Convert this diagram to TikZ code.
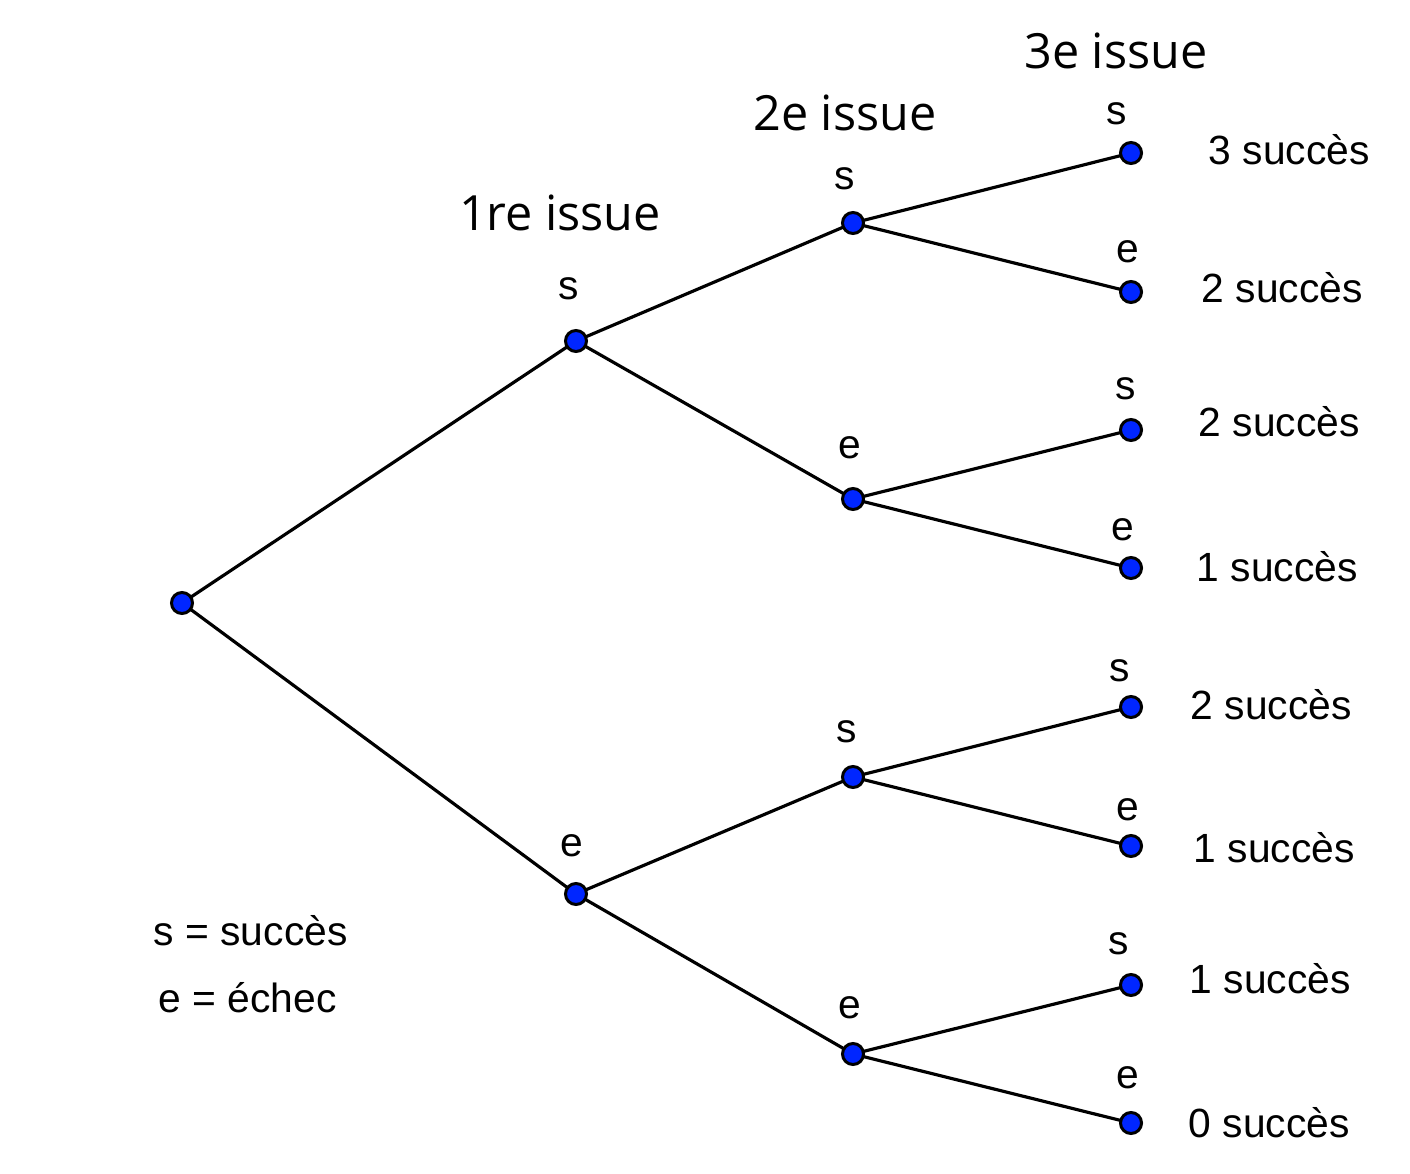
\documentclass[tikz,border=0pt]{standalone}
\usepackage{fontspec}
\setmainfont{Liberation Sans}
\newfontfamily\headfont{Open Sans}
\usetikzlibrary{backgrounds}
\definecolor{dotblue}{RGB}{0,38,255}
\begin{document}
\begin{tikzpicture}[x=0.01cm,y=-0.01cm,
  pt/.style={circle,draw=black,fill=dotblue,line width=0.85pt,minimum size=0.21cm,inner sep=0pt},
  edge/.style={line width=0.9pt,black},
  lbl/.style={inner sep=0pt,font=\fontsize{11.6}{13}\selectfont},
  res/.style={inner sep=0pt,anchor=west,font=\fontsize{11.6}{13}\selectfont},
  head/.style={inner sep=0pt,font=\headfont\fontsize{13.8}{16}\selectfont}]
\useasboundingbox (0,0) rectangle (1410,1174);
% nodes
\node[pt] (r) at (182,603) {};
\node[pt] (s) at (576,341) {};
\node[pt] (e) at (576,894) {};
\node[pt] (ss) at (853,223) {};
\node[pt] (se) at (853,499) {};
\node[pt] (es) at (853,777) {};
\node[pt] (ee) at (853,1054) {};
\node[pt] (sss) at (1131,153) {};
\node[pt] (sse) at (1131,292) {};
\node[pt] (ses) at (1131,430) {};
\node[pt] (see) at (1131,568) {};
\node[pt] (ess) at (1131,707) {};
\node[pt] (ese) at (1131,846) {};
\node[pt] (ees) at (1131,985) {};
\node[pt] (eee) at (1131,1123) {};
% edges
\begin{scope}[on background layer]
\draw[edge] (r.center) -- (s.center);
\draw[edge] (r.center) -- (e.center);
\draw[edge] (s.center) -- (ss.center);
\draw[edge] (s.center) -- (se.center);
\draw[edge] (e.center) -- (es.center);
\draw[edge] (e.center) -- (ee.center);
\draw[edge] (ss.center) -- (sss.center);
\draw[edge] (ss.center) -- (sse.center);
\draw[edge] (se.center) -- (ses.center);
\draw[edge] (se.center) -- (see.center);
\draw[edge] (es.center) -- (ess.center);
\draw[edge] (es.center) -- (ese.center);
\draw[edge] (ee.center) -- (ees.center);
\draw[edge] (ee.center) -- (eee.center);
\end{scope}
% branch labels
\node[lbl] (ls) at (569,289) {s};
\node[lbl] (le) at (572,846) {e};
\node[lbl] (lss) at (845,179) {s};
\node[lbl] (lse) at (850,448) {e};
\node[lbl] (les) at (847,732) {s};
\node[lbl] (lee) at (850,1008) {e};
\node[lbl] (lsss) at (1117,114) {s};
\node[lbl] (lsse) at (1128,252) {e};
\node[lbl] (lses) at (1126,389) {s};
\node[lbl] (lsee) at (1123,530) {e};
\node[lbl] (less) at (1120,671) {s};
\node[lbl] (lese) at (1128,810) {e};
\node[lbl] (lees) at (1119,944) {s};
\node[lbl] (leee) at (1128,1078) {e};
% results
\node[res] (r1) at (1208,150) {3 succès};
\node[res] (r2) at (1201,288) {2 succès};
\node[res] (r3) at (1198,422) {2 succès};
\node[res] (r4) at (1196,567) {1 succès};
\node[res] (r5) at (1190,705) {2 succès};
\node[res] (r6) at (1193,848) {1 succès};
\node[res] (r7) at (1189,979) {1 succès};
\node[res] (r8) at (1188,1123) {0 succès};
% headers
\node[head] (h1) at (560,213) {1re issue};
\node[head] (h2) at (845,113) {2e issue};
\node[head] (h3) at (1116,51) {3e issue};
% legend
\node[res] (leg1) at (153,931) {s = succès};
\node[res] (leg2) at (158,998) {e = échec};
\end{tikzpicture}
\end{document}
